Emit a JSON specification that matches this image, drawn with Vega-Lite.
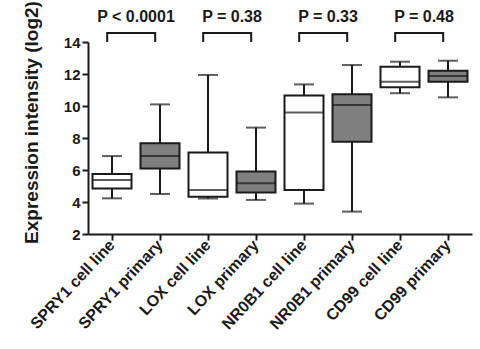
{
  "$schema": "https://vega.github.io/schema/vega-lite/v6.json",
  "width": 384,
  "height": 192,
  "autosize": "none",
  "padding": {"left": 88, "top": 42, "right": 8, "bottom": 115},
  "config": {
    "view": {"stroke": null},
    "font": "Liberation Sans",
    "axisY": {"tickCount": 7, "labelOverlap": false, "values": [2, 4, 6, 8, 10, 12, 14]}
  },
  "data": {
    "values": [
      {"category": "SPRY1 cell line", "group": "cell line", "min": 4.23, "q1": 4.85, "median": 5.37, "q3": 5.75, "max": 6.87},
      {"category": "SPRY1 primary", "group": "primary", "min": 4.5, "q1": 6.1, "median": 6.87, "q3": 7.67, "max": 10.1},
      {"category": "LOX cell line", "group": "cell line", "min": 4.22, "q1": 4.33, "median": 4.75, "q3": 7.1, "max": 11.94},
      {"category": "LOX primary", "group": "primary", "min": 4.13, "q1": 4.6, "median": 5.17, "q3": 5.9, "max": 8.65},
      {"category": "NR0B1 cell line", "group": "cell line", "min": 3.9, "q1": 4.75, "median": 9.6, "q3": 10.65, "max": 11.35},
      {"category": "NR0B1 primary", "group": "primary", "min": 3.4, "q1": 7.77, "median": 10.06, "q3": 10.73, "max": 12.56},
      {"category": "CD99 cell line", "group": "cell line", "min": 10.8, "q1": 11.17, "median": 11.52, "q3": 12.46, "max": 12.77},
      {"category": "CD99 primary", "group": "primary", "min": 10.54, "q1": 11.52, "median": 11.88, "q3": 12.2, "max": 12.83}
    ]
  },
  "encoding": {
    "x": {
      "field": "category",
      "type": "nominal",
      "sort": null,
      "scale": {
        "domain": ["SPRY1 cell line", "SPRY1 primary", "LOX cell line", "LOX primary", "NR0B1 cell line", "NR0B1 primary", "CD99 cell line", "CD99 primary"],
        "paddingInner": 0,
        "paddingOuter": 0
      },
      "axis": {
        "title": null,
        "labelAngle": -47,
        "labelFontSize": 16,
        "labelFontWeight": "bold",
        "labelColor": "#1a1a1a",
        "labelPadding": 2,
        "labelOverlap": false,
        "tickSize": 6,
        "tickWidth": 2,
        "tickColor": "#1a1a1a",
        "domainWidth": 2,
        "domainColor": "#1a1a1a"
      }
    }
  },
  "layer": [
    {
      "mark": {"type": "rule", "color": "#1a1a1a", "strokeWidth": 2},
      "encoding": {
        "y": {
          "field": "min",
          "type": "quantitative",
          "scale": {"domain": [2, 14], "nice": false, "zero": false},
          "axis": {
            "values": [2, 4, 6, 8, 10, 12, 14],
            "tickCount": 7,
            "labelOverlap": false,
            "grid": false,
            "title": "Expression intensity (log2)",
            "titleFontSize": 19,
            "titleFontWeight": "bold",
            "titleColor": "#1a1a1a",
            "titleX": -57,
            "titleY": 80,
            "titleAngle": 270,
            "titleAlign": "center",
            "titleBaseline": "middle",
            "labelFontSize": 15,
            "labelFontWeight": "bold",
            "labelColor": "#1a1a1a",
            "labelPadding": 2,
            "tickSize": 6,
            "tickWidth": 2,
            "tickColor": "#1a1a1a",
            "domainWidth": 2,
            "domainColor": "#1a1a1a"
          }
        },
        "y2": {"field": "max"}
      }
    },
    {
      "mark": {"type": "tick", "size": 20, "thickness": 2, "color": "#1a1a1a"},
      "encoding": {"y": {"field": "min", "type": "quantitative"}}
    },
    {
      "mark": {"type": "tick", "size": 20, "thickness": 2, "color": "#1a1a1a"},
      "encoding": {"y": {"field": "max", "type": "quantitative"}}
    },
    {
      "mark": {"type": "bar", "size": 39, "stroke": "#1a1a1a", "strokeWidth": 2},
      "encoding": {
        "y": {"field": "q1", "type": "quantitative"},
        "y2": {"field": "q3"},
        "fill": {
          "field": "group",
          "type": "nominal",
          "scale": {"domain": ["cell line", "primary"], "range": ["#ffffff", "#7f7f7f"]},
          "legend": null
        }
      }
    },
    {
      "mark": {"type": "tick", "size": 39, "thickness": 2, "color": "#1a1a1a"},
      "encoding": {"y": {"field": "median", "type": "quantitative"}}
    },
    {
      "data": {
        "values": [
          {"pair": "SPRY1", "category": "SPRY1 cell line", "level": 14.0, "order": 1},
          {"pair": "SPRY1", "category": "SPRY1 cell line", "level": 14.57, "order": 2},
          {"pair": "SPRY1", "category": "SPRY1 primary", "level": 14.57, "order": 3},
          {"pair": "SPRY1", "category": "SPRY1 primary", "level": 14.0, "order": 4},
          {"pair": "LOX", "category": "LOX cell line", "level": 14.0, "order": 1},
          {"pair": "LOX", "category": "LOX cell line", "level": 14.57, "order": 2},
          {"pair": "LOX", "category": "LOX primary", "level": 14.57, "order": 3},
          {"pair": "LOX", "category": "LOX primary", "level": 14.0, "order": 4},
          {"pair": "NR0B1", "category": "NR0B1 cell line", "level": 14.0, "order": 1},
          {"pair": "NR0B1", "category": "NR0B1 cell line", "level": 14.57, "order": 2},
          {"pair": "NR0B1", "category": "NR0B1 primary", "level": 14.57, "order": 3},
          {"pair": "NR0B1", "category": "NR0B1 primary", "level": 14.0, "order": 4},
          {"pair": "CD99", "category": "CD99 cell line", "level": 14.0, "order": 1},
          {"pair": "CD99", "category": "CD99 cell line", "level": 14.57, "order": 2},
          {"pair": "CD99", "category": "CD99 primary", "level": 14.57, "order": 3},
          {"pair": "CD99", "category": "CD99 primary", "level": 14.0, "order": 4}
        ]
      },
      "mark": {"type": "line", "color": "#1a1a1a", "strokeWidth": 2, "clip": false},
      "encoding": {
        "x": {"field": "category", "type": "nominal", "bandPosition": 0.4},
        "y": {"field": "level", "type": "quantitative"},
        "detail": {"field": "pair"},
        "order": {"field": "order"}
      }
    },
    {
      "data": {
        "values": [
          {"category": "SPRY1 cell line", "label": "P < 0.0001", "level": 15.55},
          {"category": "LOX cell line", "label": "P = 0.38", "level": 15.55},
          {"category": "NR0B1 cell line", "label": "P = 0.33", "level": 15.55},
          {"category": "CD99 cell line", "label": "P = 0.48", "level": 15.55}
        ]
      },
      "mark": {"type": "text", "fontSize": 16, "fontWeight": "bold", "color": "#1a1a1a", "baseline": "middle", "align": "center"},
      "encoding": {
        "x": {"field": "category", "type": "nominal", "bandPosition": 1},
        "y": {"field": "level", "type": "quantitative"},
        "text": {"field": "label"}
      }
    }
  ]
}
